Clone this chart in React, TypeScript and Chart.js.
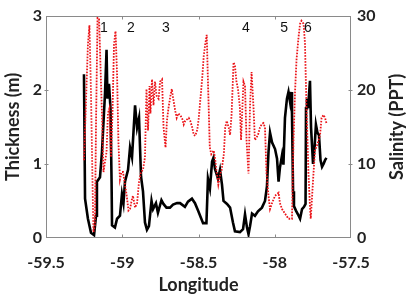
import React, { useEffect, useRef } from "react";
import { Chart, registerables } from "chart.js";
Chart.register(...registerables);

// Ice thickness (m) along longitude
const thicknessLon = [
  -59.251, -59.244, -59.225, -59.205, -59.185, -59.172, -59.166, -59.146, -59.133, -59.12,
  -59.113, -59.103, -59.097, -59.087, -59.077, -59.07, -59.067, -59.048, -59.034, -59.015,
  -59.002, -58.992, -58.982, -58.962, -58.949, -58.936, -58.916, -58.903, -58.89, -58.877,
  -58.864, -58.851, -58.838, -58.825, -58.808, -58.798, -58.779, -58.766, -58.743, -58.73,
  -58.71, -58.687, -58.667, -58.641, -58.621, -58.589, -58.569, -58.543, -58.523, -58.503,
  -58.47, -58.448, -58.438, -58.425, -58.411, -58.402, -58.392, -58.372, -58.359, -58.346,
  -58.336, -58.313, -58.293, -58.274, -58.261, -58.228, -58.208, -58.195, -58.182, -58.172,
  -58.162, -58.149, -58.13, -58.11, -58.084, -58.064, -58.051, -58.041, -58.031, -58.018,
  -57.998, -57.985, -57.975, -57.966, -57.952, -57.943, -57.933, -57.92, -57.91, -57.9,
  -57.893, -57.887, -57.88, -57.874, -57.861, -57.848, -57.834, -57.821, -57.808, -57.798,
  -57.795, -57.789, -57.782, -57.769, -57.762, -57.749, -57.739, -57.73, -57.72, -57.71,
  -57.7, -57.69, -57.68, -57.67, -57.661,
];
const thicknessM = [
  2.21, 0.53, 0.26, 0.07, 0.04, 0.3, 0.76, 0.82, 1.16, 1.68,
  1.95, 2.54, 1.88, 2.08, 1.75, 0.76, 0.17, 0.14, 0.26, 0.3,
  0.59, 0.47, 0.76, 0.92, 1.22, 1.09, 1.79, 1.49, 1.62, 0.83,
  0.63, 0.21, 0.11, 0.16, 0.5, 0.39, 0.47, 0.34, 0.51, 0.46,
  0.41, 0.41, 0.45, 0.47, 0.47, 0.42, 0.49, 0.53, 0.47, 0.37,
  0.2, 0.2, 0.8, 0.67, 1.03, 1.08, 0.93, 0.8, 0.92, 0.72,
  0.5, 0.46, 0.41, 0.21, 0.09, 0.08, 0.12, 0.32, 0.14, 0.05,
  0.16, 0.33, 0.3, 0.36, 0.41, 0.5, 0.7, 1.16, 1.42, 1.29,
  1.2, 1.07, 0.76, 0.95, 1.12, 0.99, 1.62, 1.88, 1.97, 1.84,
  1.97, 1.68, 0.63, 0.43, 0.37, 0.32, 0.26, 0.39, 0.42, 0.46,
  1.75, 1.88, 1.75, 2.12, 1.49, 1.0, 1.22, 1.53, 1.42, 1.39,
  1.05, 0.96, 1.0, 1.05, 1.08,
];

// Salinity (PPT) along longitude
const salinityLon = [
  -59.251, -59.238, -59.225, -59.215, -59.205, -59.195, -59.189, -59.179, -59.172, -59.162,
  -59.152, -59.143, -59.133, -59.123, -59.113, -59.103, -59.094, -59.084, -59.074, -59.064,
  -59.054, -59.044, -59.034, -59.025, -59.015, -59.005, -58.995, -58.982, -58.972, -58.959,
  -58.949, -58.939, -58.93, -58.916, -58.903, -58.89, -58.877, -58.864, -58.851, -58.841,
  -58.831, -58.821, -58.815, -58.805, -58.795, -58.785, -58.775, -58.762, -58.752, -58.739,
  -58.729, -58.716, -58.707, -58.697, -58.684, -58.675, -58.666, -58.652, -58.643, -58.633,
  -58.62, -58.607, -58.597, -58.587, -58.564, -58.554, -58.541, -58.531, -58.521, -58.508,
  -58.498, -58.489, -58.475, -58.466, -58.456, -58.446, -58.439, -58.433, -58.426, -58.416,
  -58.4, -58.39, -58.38, -58.37, -58.357, -58.348, -58.334, -58.325, -58.315, -58.302,
  -58.293, -58.283, -58.27, -58.261, -58.251, -58.241, -58.228, -58.221, -58.205, -58.195,
  -58.185, -58.172, -58.162, -58.152, -58.139, -58.13, -58.11, -58.097, -58.084, -58.074,
  -58.064, -58.054, -58.041, -58.031, -58.018, -57.998, -57.975, -57.966, -57.952, -57.933,
  -57.91, -57.887, -57.877, -57.867, -57.857, -57.844, -57.834, -57.825, -57.811, -57.802,
  -57.792, -57.779, -57.769, -57.764, -57.759, -57.746, -57.736, -57.716, -57.703, -57.693,
  -57.68, -57.67, -57.661,
];
const salinityPPT = [
  10.5, 18.2, 26.1, 28.7, 19.5, 7.6, 0.8, 1.7, 15.5, 29.7,
  29.5, 23.4, 16.8, 8.9, 10.3, 11.6, 16.8, 17.5, 10.9, 16.8,
  26.1, 27.9, 22.1, 12.9, 7.9, 8.9, 8.9, 7.2, 5.9, 3.7,
  3.9, 5.0, 5.7, 4.1, 4.7, 7.6, 8.9, 9.2, 10.9, 20.1,
  14.5, 20.5, 16.8, 21.4, 17.9, 21.1, 19.2, 18.8, 21.1, 21.4,
  14.9, 12.2, 15.8, 17.5, 19.2, 20.1, 18.8, 17.1, 16.2, 16.8,
  16.6, 16.1, 15.3, 15.8, 16.2, 15.8, 14.9, 13.9, 13.8, 14.6,
  16.2, 18.4, 21.8, 24.5, 26.1, 27.4, 21.8, 17.5, 12.2, 11.3,
  11.8, 10.5, 8.7, 7.2, 8.7, 9.2, 11.3, 14.9, 15.8, 14.9,
  13.9, 16.6, 23.7, 23.2, 21.1, 20.1, 17.5, 13.2, 21.1, 20.5,
  13.2, 8.7, 17.9, 22.4, 17.5, 13.2, 13.9, 14.9, 15.4, 15.5,
  14.9, 8.7, 5.7, 3.9, 4.7, 5.7, 6.1, 4.7, 3.9, 3.3,
  2.6, 2.6, 13.2, 19.7, 24.1, 27.1, 28.9, 29.3, 28.9, 26.3,
  17.5, 8.7, 4.3, 2.6, 4.3, 8.7, 11.8, 12.9, 13.9, 16.2,
  16.6, 16.2, 15.5,
];

const xTickValues = [-59.5, -59, -58.5, -58, -57.5];
const sectionNames = ["1", "2", "3", "4", "5", "6"];
const sectionLon = [-59.12, -58.943, -58.713, -58.189, -57.939, -57.782];
const sectionThickness = [2.83, 2.83, 2.83, 2.83, 2.83, 2.83];

const TICK_FONT = { family: "Lato", size: 16, weight: "bold" as const };
const TITLE_FONT = { family: "Lato", size: 18, weight: "bold" as const };

const deco = {
  id: "deco",
  afterDatasetsDraw(chart: any) {
    const { ctx, chartArea: a, scales } = chart;
    ctx.save();
    ctx.strokeStyle = "#8a8a8a";
    ctx.lineWidth = 1;
    const L = Math.round(a.left) + 0.5;
    const R = Math.round(a.right) - 0.5;
    const T = Math.round(a.top) + 0.5;
    const B = Math.round(a.bottom) - 0.5;
    ctx.strokeRect(L, T, R - L, B - T);
    ctx.beginPath();
    scales.x.ticks.forEach((t: any) => {
      const px = Math.round(scales.x.getPixelForValue(t.value)) + 0.5;
      if (px <= L + 1 || px >= R - 1) return;
      ctx.moveTo(px, B);
      ctx.lineTo(px, B - 3);
      ctx.moveTo(px, T);
      ctx.lineTo(px, T + 3);
    });
    scales.y.ticks.forEach((t: any) => {
      const py = Math.round(scales.y.getPixelForValue(t.value)) + 0.5;
      if (py <= T + 1 || py >= B - 1) return;
      ctx.moveTo(L - 2, py);
      ctx.lineTo(L + 2, py);
    });
    scales.y2.ticks.forEach((t: any) => {
      const py = Math.round(scales.y2.getPixelForValue(t.value)) + 0.5;
      if (py <= T + 1 || py >= B - 1) return;
      ctx.moveTo(R - 2, py);
      ctx.lineTo(R + 2, py);
    });
    ctx.stroke();

    ctx.fillStyle = "#111";
    ctx.font = "14px 'Liberation Sans'";
    ctx.textAlign = "center";
    ctx.textBaseline = "middle";
    sectionNames.forEach((n, i) => {
      ctx.fillText(
        n,
        scales.x.getPixelForValue(sectionLon[i]),
        scales.y.getPixelForValue(sectionThickness[i])
      );
    });

    ctx.font = "bold 18px Lato";
    ctx.fillStyle = "#222";
    ctx.translate(397, (a.top + a.bottom) / 2);
    ctx.rotate(-Math.PI / 2);
    ctx.fillText("Salinity (PPT)", 0, 0);
    ctx.restore();
  },
};

export default function App() {
  const ref = useRef<HTMLCanvasElement | null>(null);
  useEffect(() => {
    if (!ref.current) return;
    const chart = new Chart(ref.current, {
      type: "line",
      data: {
        datasets: [
          {
            label: "Thickness",
            data: thicknessLon.map((x, i) => ({ x, y: thicknessM[i] })),
            borderColor: "#000000",
            borderWidth: 2.6,
            pointRadius: 0,
            tension: 0,
            yAxisID: "y",
            order: 1,
          },
          {
            label: "Salinity",
            data: salinityLon.map((x, i) => ({ x, y: salinityPPT[i] })),
            borderColor: "rgb(235,20,25)",
            borderWidth: 1.8,
            borderDash: [1.6, 1.4],
            pointRadius: 0,
            tension: 0,
            yAxisID: "y2",
            order: 0,
          },
        ],
      },
      options: {
        responsive: false,
        animation: false,
        layout: { padding: { top: 10, left: 0, right: 0, bottom: 0 } },
        plugins: { legend: { display: false }, tooltip: { enabled: false } },
        scales: {
          x: {
            type: "linear",
            min: -59.5,
            max: -57.5,
            afterBuildTicks: (s: any) => {
              s.ticks = xTickValues.map((v) => ({ value: v }));
            },
            ticks: {
              font: TICK_FONT,
              color: "#222",
              padding: 15,
              maxRotation: 0,
              callback: (v: any) => String(v),
            },
            grid: { display: false, drawTicks: false },
            border: { display: false },
            title: {
              display: true,
              text: "Longitude",
              font: TITLE_FONT,
              color: "#222",
              padding: { top: 0, bottom: 2 },
            },
            afterFit: (s: any) => {
              s.height = 60;
            },
          },
          y: {
            position: "left",
            min: 0,
            max: 3,
            ticks: { stepSize: 1, font: TICK_FONT, color: "#222", padding: 4 },
            grid: { display: false, drawTicks: false },
            border: { display: false },
            title: {
              display: true,
              text: "Thickness (m)",
              font: TITLE_FONT,
              color: "#222",
              padding: { top: 2, bottom: 0 },
            },
            afterFit: (s: any) => {
              s.width = 46;
            },
          },
          y2: {
            position: "right",
            min: 0,
            max: 30,
            ticks: { stepSize: 10, font: TICK_FONT, color: "#222", padding: 6 },
            grid: { display: false, drawTicks: false },
            border: { display: false },
            afterFit: (s: any) => {
              s.width = 57;
            },
          },
        },
      },
      plugins: [deco],
    } as any);
    return () => chart.destroy();
  }, []);
  return (
    <div style={{ position: "absolute", left: 0, top: 0, width: 408, height: 298, background: "#fff" }}>
      <canvas ref={ref} width={408} height={298} style={{ display: "block" }} />
    </div>
  );
}
